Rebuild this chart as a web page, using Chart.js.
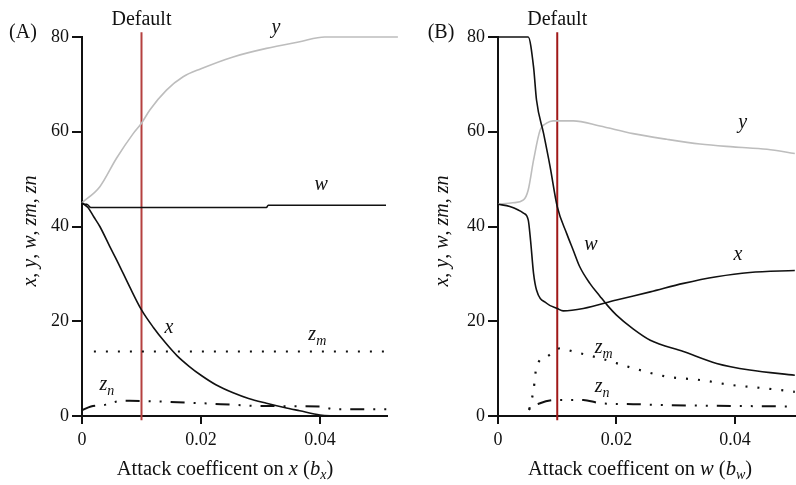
<!DOCTYPE html>
<html>
<head>
<meta charset="utf-8">
<script src="https://cdn.jsdelivr.net/npm/chart.js@4/dist/chart.umd.min.js"></script>
<style>
  html, body { margin: 0; padding: 0; background: #fff; }
  #wrap { position: relative; width: 796px; height: 485px; }
  .panel { position: absolute; top: 0; }
  #panelA { left: 0; }
  #panelB { left: 400px; }
</style>
</head>
<body>
<div id="wrap">
  <div class="panel" id="panelA"><canvas id="chart-a" width="400" height="485"></canvas></div>
  <div class="panel" id="panelB"><canvas id="chart-b" width="396" height="485"></canvas></div>
</div>
<script>
// DATA  -----------------------------------------------------------------------

const xTickValues = [0, 0.02, 0.04];
const yTickStep = 20;
const defaultX = 0.01;
const defaultSpan = [-0.9, 81];

// Panel A: attack coefficient on x
const aPreyYx = [0, 0.003, 0.0058, 0.0086, 0.01, 0.0114, 0.0142, 0.017, 0.02, 0.0254, 0.031, 0.0366, 0.0408, 0.0531];
const aPreyYv = [45, 48.4, 54.4, 59.6, 61.8, 64.6, 68.8, 71.6, 73.3, 75.8, 77.6, 79.0, 80, 80];
const aPreyWx = [0, 0.0008, 0.0015, 0.031, 0.0313, 0.0511];
const aPreyWv = [44.7, 44.7, 44.0, 44.0, 44.5, 44.5];
const aPreyXx = [0, 0.001, 0.002, 0.003, 0.0047, 0.006, 0.008, 0.01, 0.012, 0.014, 0.016, 0.018, 0.02, 0.0225, 0.0254, 0.028, 0.031, 0.034, 0.0366, 0.04, 0.0426];
const aPreyXv = [45, 44, 42, 40, 35.7, 32.5, 27.3, 22.4, 18.7, 15.5, 12.7, 10.5, 8.6, 6.6, 4.9, 3.7, 2.7, 1.8, 1.1, 0.2, 0];
const aZmX = [0.002, 0.052];
const aZmV = [13.6, 13.6];
const aZnX = [0, 0.0015, 0.004, 0.006, 0.008, 0.012, 0.02, 0.025, 0.03, 0.04, 0.0425, 0.0515];
const aZnV = [1.2, 2.0, 2.4, 3.1, 3.2, 3.1, 2.7, 2.4, 2.1, 2.0, 1.4, 1.4];

// Panel B: attack coefficient on w
const bPreyYx = [0, 0.0025, 0.0043, 0.0051, 0.006, 0.0071, 0.0082, 0.0093, 0.0127, 0.0172, 0.0228, 0.0285, 0.0341, 0.0397, 0.0454, 0.0501];
const bPreyYv = [44.7, 45, 45.6, 47.7, 54, 60.3, 61.8, 62.3, 62.3, 61.2, 59.6, 58.4, 57.4, 56.8, 56.3, 55.4];
const bPreyWx = [0, 0.0051, 0.006, 0.0065, 0.0077, 0.0088, 0.01, 0.0116, 0.0127, 0.0138, 0.0155, 0.0172, 0.0185, 0.02, 0.0228, 0.0257, 0.0313, 0.0369, 0.0425, 0.0501];
const bPreyWv = [80, 80, 73.7, 66.7, 59.6, 52.6, 44.2, 38.5, 35, 31.5, 28, 25.3, 23.3, 21.3, 18.4, 16.0, 13.6, 11.1, 9.7, 8.6];
const bPreyXx = [0, 0.002, 0.0043, 0.0051, 0.0055, 0.006, 0.0065, 0.0082, 0.01, 0.011, 0.0144, 0.02, 0.0257, 0.0313, 0.0369, 0.0425, 0.0501];
const bPreyXv = [44.7, 44.2, 42.8, 41.4, 37, 30.1, 26.6, 23.8, 22.7, 22.2, 22.7, 24.5, 26.2, 28.0, 29.4, 30.3, 30.7];
const bZmX = [0, 0.0048, 0.0054, 0.006, 0.0065, 0.0082, 0.0105, 0.0127, 0.0172, 0.0228, 0.0285, 0.0341, 0.0397, 0.0454, 0.0501];
const bZmV = [0, 0, 2, 5.5, 10.4, 12.5, 14.3, 13.6, 12.2, 10.1, 8.3, 7.6, 6.5, 5.8, 5.1];
const bZnX = [0, 0.0045, 0.0054, 0.0071, 0.0099, 0.0144, 0.0172, 0.0228, 0.0285, 0.0501];
const bZnV = [0, 0, 1.6, 2.7, 3.4, 3.4, 2.7, 2.5, 2.3, 2.0];

// curve labels: base glyph, subscript, x (data), baseline (data)
const aLabelText = ['y', 'w', 'x', 'z', 'z'];
const aLabelSub = ['', '', '', 'm', 'n'];
const aLabelX = [0.0326, 0.0402, 0.0146, 0.0387, 0.0036];
const aLabelY = [80.8, 47.7, 17.5, 16.0, 5.5];
const bLabelText = ['y', 'w', 'x', 'z', 'z'];
const bLabelSub = ['', '', '', 'm', 'n'];
const bLabelX = [0.0413, 0.0157, 0.0405, 0.0170, 0.0170];
const bLabelY = [60.8, 35.0, 32.9, 13.2, 5.1];

// STYLE  ----------------------------------------------------------------------

const SERIF = '"Liberation Serif", "Times New Roman", serif';
const INK = '#111111';
const GREY = '#bdbdbd';
const RED_A = '#b5403f';
const RED_B = '#a01818';

function points(xs, ys) {
    return xs.map((x, i) => ({ x: x, y: ys[i] }));
}

function line(data, color, width, dash) {
    return {
        data: data,
        borderColor: color,
        borderWidth: width,
        borderDash: dash || [],
        pointRadius: 0,
        fill: false,
        clip: false,
        cubicInterpolationMode: 'monotone'
    };
}

const DOTS = [2, 10];
const DASH_DOT_DOT = [14, 9, 2, 9, 2, 9];

// draw text made of parts: [text, style, size, dy]
function drawRich(ctx, parts, x, y, align) {
    let total = 0;
    parts.forEach(p => {
        ctx.font = p[1] + ' ' + p[2] + 'px ' + SERIF;
        total += ctx.measureText(p[0]).width;
    });
    let cx = align === 'center' ? x - total / 2 : x;
    ctx.textAlign = 'left';
    ctx.textBaseline = 'alphabetic';
    ctx.fillStyle = INK;
    parts.forEach(p => {
        ctx.font = p[1] + ' ' + p[2] + 'px ' + SERIF;
        ctx.fillText(p[0], cx, y + (p[3] || 0));
        cx += ctx.measureText(p[0]).width;
    });
}

function textPlugin(panel) {
    return {
        id: 'panelText',
        afterDraw(chart) {
            const ctx = chart.ctx;
            const xs = chart.scales.x;
            const ys = chart.scales.y;
            ctx.save();

            // panel letter and default marker
            drawRich(ctx, [[panel.letter, 'normal', 20]], panel.letterX, 38, 'center');
            drawRich(ctx, [['Default', 'normal', 20]], xs.getPixelForValue(defaultX), 25, 'center');

            // curve labels
            panel.labelText.forEach((t, i) => {
                const px = xs.getPixelForValue(panel.labelX[i]);
                const py = ys.getPixelForValue(panel.labelY[i]);
                ctx.font = 'italic 20px ' + SERIF;
                const w = ctx.measureText(t).width;
                const parts = [[t, 'italic', 20]];
                if (panel.labelSub[i]) parts.push([panel.labelSub[i], 'italic', 14, 5]);
                drawRich(ctx, parts, px - w / 2, py, 'left');
            });

            // x axis title
            drawRich(ctx, panel.xTitle, panel.xTitleX, 475, 'center');

            // y axis title
            ctx.translate(panel.yTitleX, 231);
            ctx.rotate(-Math.PI / 2);
            drawRich(ctx, [
                ['x', 'italic', 20], [', ', 'normal', 20],
                ['y', 'italic', 20], [', ', 'normal', 20],
                ['w', 'italic', 20], [', ', 'normal', 20],
                ['zm', 'italic', 20], [', ', 'normal', 20],
                ['zn', 'italic', 20]
            ], 0, 0, 'center');
            ctx.restore();
        }
    };
}

function buildScales(xMax, yAxisWidth) {
    return {
        x: {
            type: 'linear',
            min: 0,
            max: xMax,
            afterBuildTicks: s => { s.ticks = xTickValues.map(v => ({ value: v })); },
            afterFit: s => { s.height = 485 - 416; },
            border: { display: true, color: INK, width: 2 },
            grid: { drawOnChartArea: false, drawTicks: true, tickLength: 8, color: INK, lineWidth: 2 },
            ticks: {
                color: INK,
                font: { family: SERIF, size: 18 },
                padding: 5,
                maxRotation: 0,
                autoSkip: false,
                callback: v => String(v)
            }
        },
        y: {
            type: 'linear',
            min: 0,
            max: 80,
            afterFit: s => { s.width = yAxisWidth; },
            border: { display: true, color: INK, width: 2 },
            grid: { drawOnChartArea: false, drawTicks: true, tickLength: 10, color: INK, lineWidth: 2 },
            ticks: {
                stepSize: yTickStep,
                color: INK,
                font: { family: SERIF, size: 18 },
                padding: 3
            }
        }
    };
}

function makeChart(canvasId, cfg) {
    const canvas = document.getElementById(canvasId);
    const existingChart = Chart.getChart(canvas);
    if (existingChart) {
        existingChart.destroy();
    }
    new Chart(canvas.getContext('2d'), {
        type: 'line',
        data: { datasets: cfg.datasets },
        options: {
            responsive: false,
            animation: false,
            events: [],
            layout: { padding: cfg.padding },
            scales: buildScales(cfg.xMax, cfg.yAxisWidth),
            plugins: { legend: { display: false }, tooltip: { enabled: false } }
        },
        plugins: [textPlugin(cfg.panel)]
    });
}

// CHARTS  ---------------------------------------------------------------------

makeChart('chart-a', {
    xMax: 0.0512,
    yAxisWidth: 82,
    padding: { top: 37, right: 13.4, left: 0, bottom: 0 },
    datasets: [
        line(points(aPreyXx, aPreyXv), INK, 1.6),
        line(points(aPreyWx, aPreyWv), INK, 1.6),
        line(points(aPreyYx, aPreyYv), GREY, 1.6),
        line(points(aZmX, aZmV), INK, 2, DOTS),
        line(points(aZnX, aZnV), INK, 2, DASH_DOT_DOT),
        line(points([defaultX, defaultX], defaultSpan), RED_A, 2)
    ],
    panel: {
        letter: '(A)', letterX: 23,
        labelText: aLabelText, labelSub: aLabelSub, labelX: aLabelX, labelY: aLabelY,
        xTitle: [['Attack coefficent on ', 'normal', 20.5], ['x', 'italic', 20.5], [' (', 'normal', 20.5],
                 ['b', 'italic', 20.5], ['x', 'italic', 14, 4], [')', 'normal', 20.5]],
        xTitleX: 225,
        yTitleX: 36
    }
});

makeChart('chart-b', {
    xMax: 0.0503,
    yAxisWidth: 98,
    padding: { top: 37, right: 0, left: 0, bottom: 0 },
    datasets: [
        line(points(bPreyWx, bPreyWv), INK, 1.6),
        line(points(bPreyXx, bPreyXv), INK, 1.6),
        line(points(bPreyYx, bPreyYv), GREY, 1.6),
        line(points(bZmX, bZmV), INK, 2.2, DOTS),
        line(points(bZnX, bZnV), INK, 2, DASH_DOT_DOT),
        line(points([defaultX, defaultX], defaultSpan), RED_B, 2)
    ],
    panel: {
        letter: '(B)', letterX: 41,
        labelText: bLabelText, labelSub: bLabelSub, labelX: bLabelX, labelY: bLabelY,
        xTitle: [['Attack coefficent on ', 'normal', 20.5], ['w', 'italic', 20.5], [' (', 'normal', 20.5],
                 ['b', 'italic', 20.5], ['w', 'italic', 14, 4], [')', 'normal', 20.5]],
        xTitleX: 240,
        yTitleX: 48
    }
});
</script>
</body>
</html>
